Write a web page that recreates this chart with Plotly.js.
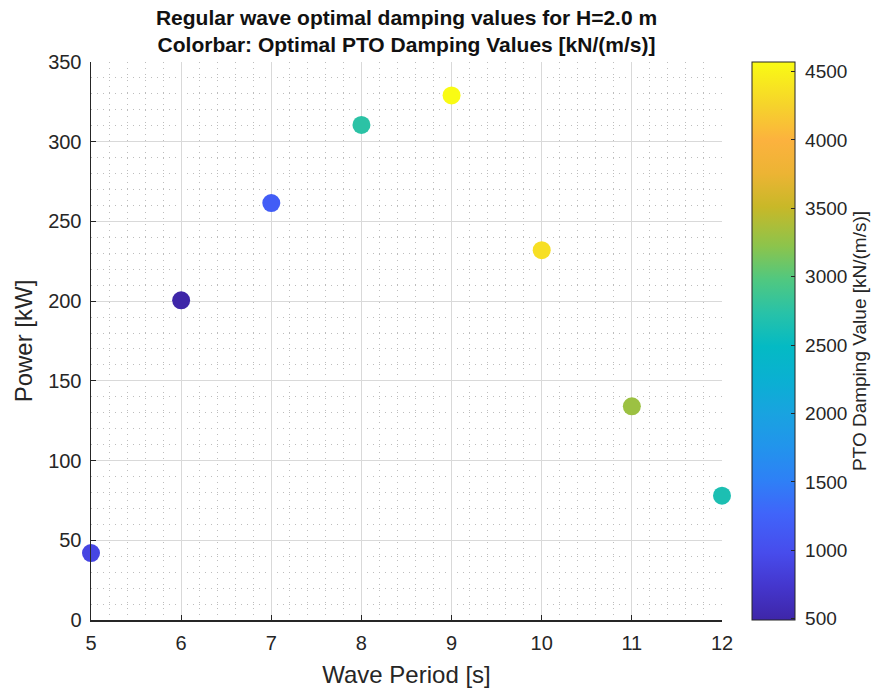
<!DOCTYPE html>
<html>
<head>
<meta charset="utf-8">
<script src="https://cdn.plot.ly/plotly-3.0.1.min.js"></script>
<style>html,body{margin:0;padding:0;background:#fff}#chart{width:872px;height:688px}</style>
</head>
<body>
<div id="chart"></div>
<script>
// Data
const wavePeriod = [5, 6, 7, 8, 9, 10, 11, 12];
const power = [42, 200.5, 261.5, 310.5, 329, 232, 134, 78];
const damping = [900, 490, 1180, 2750, 4570, 4350, 3300, 2650];
const xTicks = [5, 6, 7, 8, 9, 10, 11, 12];
const yTicks = [0, 50, 100, 150, 200, 250, 300, 350];
const cbTicks = [500, 1000, 1500, 2000, 2500, 3000, 3500, 4000, 4500];

const parula = [
  [0.00, 'rgb(62,38,168)'],
  [0.06, 'rgb(68,54,205)'],
  [0.12, 'rgb(71,76,236)'],
  [0.19, 'rgb(64,100,250)'],
  [0.25, 'rgb(46,128,246)'],
  [0.31, 'rgb(34,148,236)'],
  [0.37, 'rgb(25,163,224)'],
  [0.43, 'rgb(10,176,210)'],
  [0.49, 'rgb(4,186,196)'],
  [0.55, 'rgb(40,194,168)'],
  [0.61, 'rgb(80,200,128)'],
  [0.67, 'rgb(140,196,76)'],
  [0.74, 'rgb(200,184,40)'],
  [0.80, 'rgb(236,180,52)'],
  [0.86, 'rgb(252,178,62)'],
  [0.92, 'rgb(246,210,44)'],
  [1.00, 'rgb(249,251,20)']
];

const txt = '#262626';
const fam = 'Liberation Sans, Arial, sans-serif';
const trace = {
  type: 'scatter',
  mode: 'markers',
  x: wavePeriod,
  y: power,
  cliponaxis: false,
  hoverinfo: 'x+y',
  marker: {
    size: 18,
    color: damping,
    colorscale: parula,
    cmin: Math.min(...damping),
    cmax: Math.max(...damping),
    line: {width: 0},
    showscale: true,
    colorbar: {
      x: 1.0475, xanchor: 'left', xref: 'paper',
      y: 0, yanchor: 'bottom', yref: 'paper',
      len: 1, lenmode: 'fraction',
      thickness: 43, thicknessmode: 'pixels',
      outlinewidth: 1, outlinecolor: txt,
      ticks: 'inside', ticklen: 4, tickcolor: txt, tickwidth: 1,
      tickvals: cbTicks,
      ticktext: cbTicks.map(v => '\u00a0' + v),
      tickfont: {family: fam, size: 19, color: txt},
      xpad: 0, ypad: 0,
      title: {text: 'PTO Damping Value [kN/(m/s)]', side: 'right',
              font: {family: fam, size: 19, color: txt}}
    }
  }
};

const layout = {
  width: 872, height: 688,
  margin: {l: 91, r: 150, t: 62, b: 68, autoexpand: false},
  paper_bgcolor: '#fff', plot_bgcolor: '#fff',
  showlegend: false,
  font: {family: fam, color: txt},
  title: {
    text: '<b>Regular wave optimal damping values for H=2.0 m<br>Colorbar: Optimal PTO Damping Values [kN/(m/s)]</b>',
    font: {family: fam, size: 21, color: '#111'},
    x: 0.5, xref: 'paper', xanchor: 'center',
    y: 1 - 25/688, yref: 'container', yanchor: 'top'
  },
  xaxis: {
    range: [5, 12], tickvals: xTicks, ticktext: xTicks.map(String),
    ticks: 'inside', ticklen: 5, tickcolor: txt,
    showline: true, linecolor: txt, linewidth: 1.5, mirror: false,
    showgrid: true, gridcolor: '#d9d9d9', gridwidth: 1,
    zeroline: false,
    ticklabelstandoff: 4,
    tickfont: {size: 20, color: txt},
    title: {text: 'Wave Period [s]', font: {size: 24, color: txt}, standoff: 18},
    minor: {dtick: 0.2, showgrid: true, gridcolor: '#bdbdbd', griddash: '1px,5px', gridwidth: 1, ticks: ''}
  },
  yaxis: {
    range: [0, 350], tickvals: yTicks, ticktext: yTicks.map(String),
    ticks: 'inside', ticklen: 5, tickcolor: txt,
    showline: true, linecolor: txt, linewidth: 1.5, mirror: false,
    showgrid: true, gridcolor: '#d9d9d9', gridwidth: 1,
    zeroline: false,
    ticklabelstandoff: 4,
    tickfont: {size: 20, color: txt},
    title: {text: 'Power [kW]', font: {size: 24, color: txt}, standoff: 8},
    minor: {dtick: 10, showgrid: true, gridcolor: '#bdbdbd', griddash: '1px,5px', gridwidth: 1, ticks: ''}
  }
};

Plotly.newPlot('chart', [trace], layout, {displayModeBar: false, staticPlot: true});
</script>
</body>
</html>
